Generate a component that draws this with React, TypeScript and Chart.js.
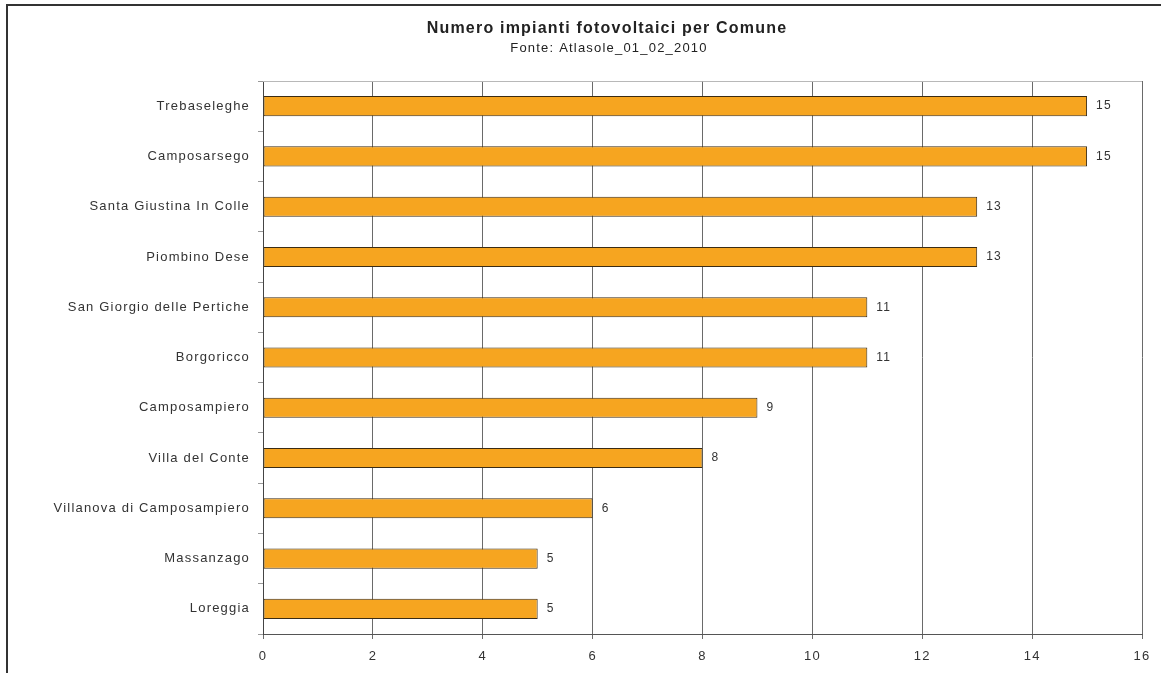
import React, { useEffect, useRef } from "react";
import { Chart, registerables } from "chart.js";

Chart.register(...registerables);

const titleText = "Numero impianti fotovoltaici per Comune";
const subtitleText = "Fonte: Atlasole_01_02_2010";

const categories = [
  "Trebaseleghe",
  "Camposarsego",
  "Santa Giustina In Colle",
  "Piombino Dese",
  "San Giorgio delle Pertiche",
  "Borgoricco",
  "Camposampiero",
  "Villa del Conte",
  "Villanova di Camposampiero",
  "Massanzago",
  "Loreggia",
];

const values = [15, 15, 13, 13, 11, 11, 9, 8, 6, 5, 5];

const xMin = 0;
const xMax = 16;
const xStep = 2;

const FONT = "'Liberation Sans', Arial, Helvetica, sans-serif";

const spacing = {
  id: "spacing",
  beforeDraw(chart: any) {
    (chart.ctx as any).letterSpacing = "1.2px";
  },
};

const titles = {
  id: "titles",
  afterDraw(chart: any) {
    const ctx = chart.ctx;
    ctx.save();
    (ctx as any).letterSpacing = "1.2px";
    ctx.textAlign = "center";
    ctx.textBaseline = "middle";
    ctx.fillStyle = "#222";
    ctx.font = `bold 16px ${FONT}`;
    ctx.fillText(titleText, 607, 29);
    ctx.font = `13px ${FONT}`;
    ctx.fillText(subtitleText, 609, 48);
    ctx.restore();
  },
};

const valueLabels = {
  id: "valueLabels",
  afterDatasetsDraw(chart: any) {
    const ctx = chart.ctx;
    const meta = chart.getDatasetMeta(0);
    ctx.save();
    ctx.font = `12px ${FONT}`;
    ctx.fillStyle = "#333";
    ctx.textAlign = "left";
    ctx.textBaseline = "middle";
    meta.data.forEach((el: any, i: number) => {
      ctx.fillText(String(values[i]), el.x + 9, el.y);
    });
    ctx.restore();
  },
};

const topBorder = {
  id: "topBorder",
  beforeDatasetsDraw(chart: any) {
    const { ctx, chartArea } = chart;
    ctx.save();
    ctx.strokeStyle = "#b8b8b8";
    ctx.lineWidth = 1;
    ctx.beginPath();
    ctx.moveTo(chartArea.left, chartArea.top + 0.5);
    ctx.lineTo(chartArea.right, chartArea.top + 0.5);
    ctx.stroke();
    ctx.restore();
  },
};

export default function App() {
  const ref = useRef<HTMLCanvasElement>(null);

  useEffect(() => {
    document.body.style.margin = "0";
    const canvas = ref.current!;
    const chart = new Chart(canvas, {
      type: "bar",
      data: {
        labels: categories,
        datasets: [
          {
            data: values,
            backgroundColor: "#F6A520",
            borderColor: "#3b2c14",
            borderWidth: 1,
            borderSkipped: false,
            barPercentage: 0.4,
            categoryPercentage: 1,
          },
        ],
      },
      options: {
        indexAxis: "y",
        animation: false,
        responsive: false,
        maintainAspectRatio: false,
        devicePixelRatio: 1,
        layout: { padding: { left: 30, right: 19, top: 81, bottom: 0 } },
        plugins: {
          legend: { display: false },
          tooltip: { enabled: false },
          title: { display: false },
          subtitle: { display: false },
        },
        scales: {
          x: {
            min: xMin,
            max: xMax,
            afterFit: (s: any) => {
              s.height = 39;
            },
            ticks: {
              stepSize: xStep,
              color: "#333",
              font: { family: FONT, size: 13 },
              padding: 10,
            },
            grid: {
              color: "#6a6a6a",
              lineWidth: 1,
              drawTicks: true,
              tickLength: 5,
            },
            border: { color: "#555", width: 1 },
          },
          y: {
            afterFit: (s: any) => {
              s.width = 233;
            },
            ticks: {
              color: "#333",
              font: { family: FONT, size: 13 },
              padding: 8,
            },
            grid: {
              offset: true,
              drawOnChartArea: false,
              drawTicks: true,
              tickLength: 5,
              color: "#999",
            },
            border: { color: "#444", width: 1 },
          },
        },
      },
      plugins: [spacing, valueLabels, topBorder, titles],
    });
    return () => chart.destroy();
  }, []);

  return (
    <div style={{ position: "relative", width: 1161, height: 673, background: "#fff", overflow: "hidden" }}>
      <canvas ref={ref} width={1161} height={673} style={{ position: "absolute", left: 0, top: 0 }} />
      <div
        style={{
          position: "absolute",
          left: 6,
          top: 4,
          width: 1200,
          height: 700,
          borderLeft: "2px solid #333",
          borderTop: "2px solid #333",
          pointerEvents: "none",
        }}
      />
    </div>
  );
}
